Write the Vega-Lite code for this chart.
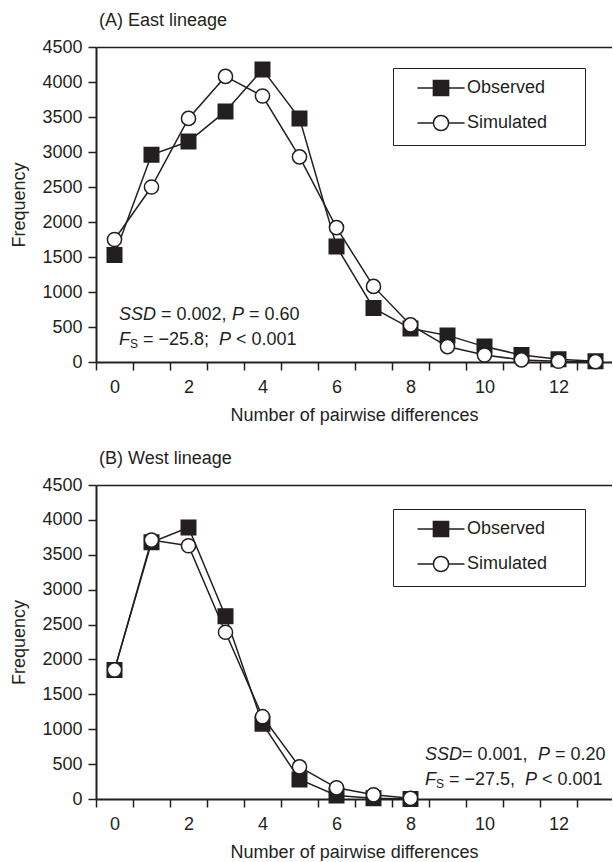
{
  "$schema": "https://vega.github.io/schema/vega-lite/v6.json",
  "padding": {"left": 10, "top": 12, "right": 0, "bottom": 0},
  "background": "white",
  "spacing": 26,
  "config": {
    "font": "Liberation Sans",
    "view": {"stroke": null},
    "axis": {"labelFont": "Liberation Sans", "labelFontSize": 18, "labelColor": "#231f20", "titleFont": "Liberation Sans", "titleFontSize": 18, "titleFontWeight": "normal", "titleColor": "#231f20", "domainColor": "#231f20", "domainWidth": 2, "tickColor": "#231f20", "tickWidth": 1.5, "tickSize": 8, "grid": false},
    "title": {"font": "Liberation Sans", "fontSize": 18, "fontWeight": "normal", "color": "#231f20", "anchor": "start", "frame": "group", "offset": 8},
    "text": {"font": "Liberation Sans", "fontSize": 18, "color": "#231f20"}
  },
  "datasets": {
    "pts": [
      {"panel": "A", "series": "Observed", "x": 0, "f": 1530},
      {"panel": "A", "series": "Observed", "x": 1, "f": 2960},
      {"panel": "A", "series": "Observed", "x": 2, "f": 3150},
      {"panel": "A", "series": "Observed", "x": 3, "f": 3580},
      {"panel": "A", "series": "Observed", "x": 4, "f": 4180},
      {"panel": "A", "series": "Observed", "x": 5, "f": 3480},
      {"panel": "A", "series": "Observed", "x": 6, "f": 1650},
      {"panel": "A", "series": "Observed", "x": 7, "f": 770},
      {"panel": "A", "series": "Observed", "x": 8, "f": 480},
      {"panel": "A", "series": "Observed", "x": 9, "f": 380},
      {"panel": "A", "series": "Observed", "x": 10, "f": 220},
      {"panel": "A", "series": "Observed", "x": 11, "f": 100},
      {"panel": "A", "series": "Observed", "x": 12, "f": 40},
      {"panel": "A", "series": "Observed", "x": 13, "f": 10},
      {"panel": "A", "series": "Simulated", "x": 0, "f": 1750},
      {"panel": "A", "series": "Simulated", "x": 1, "f": 2500},
      {"panel": "A", "series": "Simulated", "x": 2, "f": 3480},
      {"panel": "A", "series": "Simulated", "x": 3, "f": 4080},
      {"panel": "A", "series": "Simulated", "x": 4, "f": 3800},
      {"panel": "A", "series": "Simulated", "x": 5, "f": 2930},
      {"panel": "A", "series": "Simulated", "x": 6, "f": 1920},
      {"panel": "A", "series": "Simulated", "x": 7, "f": 1080},
      {"panel": "A", "series": "Simulated", "x": 8, "f": 530},
      {"panel": "A", "series": "Simulated", "x": 9, "f": 220},
      {"panel": "A", "series": "Simulated", "x": 10, "f": 100},
      {"panel": "A", "series": "Simulated", "x": 11, "f": 30},
      {"panel": "A", "series": "Simulated", "x": 12, "f": 10},
      {"panel": "A", "series": "Simulated", "x": 13, "f": 5},
      {"panel": "B", "series": "Observed", "x": 0, "f": 1850},
      {"panel": "B", "series": "Observed", "x": 1, "f": 3680},
      {"panel": "B", "series": "Observed", "x": 2, "f": 3890},
      {"panel": "B", "series": "Observed", "x": 3, "f": 2620},
      {"panel": "B", "series": "Observed", "x": 4, "f": 1080},
      {"panel": "B", "series": "Observed", "x": 5, "f": 280},
      {"panel": "B", "series": "Observed", "x": 6, "f": 50},
      {"panel": "B", "series": "Observed", "x": 7, "f": 10},
      {"panel": "B", "series": "Observed", "x": 8, "f": 0},
      {"panel": "B", "series": "Simulated", "x": 0, "f": 1850},
      {"panel": "B", "series": "Simulated", "x": 1, "f": 3710},
      {"panel": "B", "series": "Simulated", "x": 2, "f": 3630},
      {"panel": "B", "series": "Simulated", "x": 3, "f": 2390},
      {"panel": "B", "series": "Simulated", "x": 4, "f": 1180},
      {"panel": "B", "series": "Simulated", "x": 5, "f": 460},
      {"panel": "B", "series": "Simulated", "x": 6, "f": 160},
      {"panel": "B", "series": "Simulated", "x": 7, "f": 60},
      {"panel": "B", "series": "Simulated", "x": 8, "f": 10}
    ]
  },
  "resolve": {"scale": {"shape": "independent", "fill": "independent", "stroke": "independent"}, "legend": {"shape": "independent", "fill": "independent", "stroke": "independent"}},
  "vconcat": [
    {
      "title": {"text": "(A) East lineage", "dx": 3},
      "width": 516,
      "height": 315,
      "resolve": {"axis": {"x": "independent"}},
      "layer": [
        {
          "data": {"name": "pts"},
          "transform": [{"filter": "datum.panel === 'A'"}],
          "encoding": {
            "x": {"field": "x", "type": "quantitative", "title": "Number of pairwise differences",
              "scale": {"domain": [-0.5, 13.446], "nice": false, "zero": false},
              "axis": {"orient": "bottom", "values": [0, 1, 2, 3, 4, 5, 6, 7, 8, 9, 10, 11, 12, 13], "tickOffset": -18.5, "labelOffset": 18.5, "labelOverlap": "parity", "labelSeparation": 30, "labelPadding": 8, "titlePadding": 10, "labelFlush": false, "labelBound": false, "format": "d"}},
            "y": {"field": "f", "type": "quantitative", "title": "Frequency",
              "scale": {"domain": [0, 4500], "nice": false},
              "axis": {"values": [0, 500, 1000, 1500, 2000, 2500, 3000, 3500, 4000, 4500], "format": "d", "labelPadding": 6, "titlePadding": 13}}
          },
          "layer": [
            {"mark": {"type": "line", "color": "#231f20", "strokeWidth": 1.5}, "encoding": {"detail": {"field": "series"}}},
            {"transform": [{"filter": "datum.series === 'Observed'"}],
             "mark": {"type": "point", "shape": "square", "filled": true, "fill": "#231f20", "stroke": "#231f20", "strokeWidth": 1.5, "size": 210, "opacity": 1}},
            {"transform": [{"filter": "datum.series === 'Simulated'"}],
             "mark": {"type": "point", "shape": "circle", "filled": true, "fill": "#ffffff", "stroke": "#231f20", "strokeWidth": 1.5, "size": 200, "opacity": 1}}
          ]
        },
        {
          "data": {"name": "pts"},
          "transform": [{"filter": "false"}],
          "mark": {"type": "point", "filled": true, "strokeWidth": 1.5, "opacity": 1},
          "encoding": {
            "x": {"field": "x", "type": "quantitative", "title": null,
              "scale": {"domain": [-0.5, 13.446], "nice": false, "zero": false},
              "axis": {"orient": "top", "labels": false, "ticks": false, "title": null, "domain": true, "domainWidth": 1.5, "grid": false}},
            "y": {"field": "f", "type": "quantitative", "title": "Frequency",
              "scale": {"domain": [0, 4500], "nice": false},
              "axis": {"values": [0, 500, 1000, 1500, 2000, 2500, 3000, 3500, 4000, 4500], "format": "d", "labelPadding": 6, "titlePadding": 13}},
            "shape": {"field": "series", "type": "nominal", "scale": {"domain": ["Observed", "Simulated"], "range": ["M-2.94,0H2.94M-0.95,-0.95H0.95V0.95H-0.95Z", "M-2.94,0H-0.95M0.95,0H2.94M-0.95,0A0.95,0.95,0,1,1,0.95,0A0.95,0.95,0,1,1,-0.95,0Z"]},
              "legend": {"title": null, "orient": "none", "legendX": 297, "legendY": 21, "strokeColor": "#231f20", "padding": 11, "rowPadding": 13, "symbolSize": 256, "symbolStrokeWidth": 1.5, "symbolOffset": 28, "labelOffset": 17, "labelFont": "Liberation Sans", "labelFontSize": 18, "labelColor": "#231f20", "labelExpr": "datum.label + '\u2800\u2800'"}},
            "fill": {"field": "series", "type": "nominal", "scale": {"domain": ["Observed", "Simulated"], "range": ["#231f20", "#ffffff"]},
              "legend": {"title": null, "orient": "none", "legendX": 297, "legendY": 21, "strokeColor": "#231f20", "padding": 11, "rowPadding": 13, "symbolSize": 256, "symbolStrokeWidth": 1.5, "symbolOffset": 28, "labelOffset": 17, "labelFont": "Liberation Sans", "labelFontSize": 18, "labelColor": "#231f20", "labelExpr": "datum.label + '\u2800\u2800'"}},
            "stroke": {"field": "series", "type": "nominal", "scale": {"domain": ["Observed", "Simulated"], "range": ["#231f20", "#231f20"]},
              "legend": {"title": null, "orient": "none", "legendX": 297, "legendY": 21, "strokeColor": "#231f20", "padding": 11, "rowPadding": 13, "symbolSize": 256, "symbolStrokeWidth": 1.5, "symbolOffset": 28, "labelOffset": 17, "labelFont": "Liberation Sans", "labelFontSize": 18, "labelColor": "#231f20", "labelExpr": "datum.label + '\u2800\u2800'"}}
          }
        },
        {
          "data": {"values": [{"k": 1}]},
          "encoding": {
            "x": {"datum": 0, "type": "quantitative", "scale": {"domain": [-0.5, 13.446], "nice": false, "zero": false}, "axis": null},
            "y": {"datum": 0, "type": "quantitative", "title": "Frequency",
              "scale": {"domain": [0, 4500], "nice": false},
              "axis": {"values": [0, 500, 1000, 1500, 2000, 2500, 3000, 3500, 4000, 4500], "format": "d", "labelPadding": 6, "titlePadding": 13}}
          },
          "layer": [
            {"mark": {"type": "text", "text": "SSD", "fontStyle": "italic", "align": "left", "baseline": "middle", "color": "#231f20"}, "encoding": {"x": {"datum": 0.122}, "y": {"datum": 671}}},
            {"mark": {"type": "text", "text": "= 0.002,", "align": "left", "baseline": "middle", "color": "#231f20"}, "encoding": {"x": {"datum": 1.257}, "y": {"datum": 671}}},
            {"mark": {"type": "text", "text": "P", "fontStyle": "italic", "align": "left", "baseline": "middle", "color": "#231f20"}, "encoding": {"x": {"datum": 3.176}, "y": {"datum": 671}}},
            {"mark": {"type": "text", "text": "= 0.60", "align": "left", "baseline": "middle", "color": "#231f20"}, "encoding": {"x": {"datum": 3.635}, "y": {"datum": 671}}},
            {"mark": {"type": "text", "text": "F", "fontStyle": "italic", "align": "left", "baseline": "middle", "color": "#231f20"}, "encoding": {"x": {"datum": 0.122}, "y": {"datum": 314}}},
            {"mark": {"type": "text", "text": "S", "fontSize": 12, "align": "left", "baseline": "middle", "color": "#231f20"}, "encoding": {"x": {"datum": 0.419}, "y": {"datum": 257}}},
            {"mark": {"type": "text", "text": "= −25.8;", "align": "left", "baseline": "middle", "color": "#231f20"}, "encoding": {"x": {"datum": 0.77}, "y": {"datum": 314}}},
            {"mark": {"type": "text", "text": "P", "fontStyle": "italic", "align": "left", "baseline": "middle", "color": "#231f20"}, "encoding": {"x": {"datum": 2.824}, "y": {"datum": 314}}},
            {"mark": {"type": "text", "text": "< 0.001", "align": "left", "baseline": "middle", "color": "#231f20"}, "encoding": {"x": {"datum": 3.284}, "y": {"datum": 314}}}
          ]
        }
      ]
    },
    {
      "title": {"text": "(B) West lineage", "dx": 3},
      "width": 516,
      "height": 314,
      "resolve": {"axis": {"x": "independent"}},
      "layer": [
        {
          "data": {"name": "pts"},
          "transform": [{"filter": "datum.panel === 'B'"}],
          "encoding": {
            "x": {"field": "x", "type": "quantitative", "title": "Number of pairwise differences",
              "scale": {"domain": [-0.5, 13.446], "nice": false, "zero": false},
              "axis": {"orient": "bottom", "values": [0, 1, 2, 3, 4, 5, 6, 7, 8, 9, 10, 11, 12, 13], "tickOffset": -18.5, "labelOffset": 18.5, "labelOverlap": "parity", "labelSeparation": 30, "labelPadding": 8, "titlePadding": 10, "labelFlush": false, "labelBound": false, "format": "d"}},
            "y": {"field": "f", "type": "quantitative", "title": "Frequency",
              "scale": {"domain": [0, 4500], "nice": false},
              "axis": {"values": [0, 500, 1000, 1500, 2000, 2500, 3000, 3500, 4000, 4500], "format": "d", "labelPadding": 6, "titlePadding": 13}}
          },
          "layer": [
            {"mark": {"type": "line", "color": "#231f20", "strokeWidth": 1.5}, "encoding": {"detail": {"field": "series"}}},
            {"transform": [{"filter": "datum.series === 'Observed'"}],
             "mark": {"type": "point", "shape": "square", "filled": true, "fill": "#231f20", "stroke": "#231f20", "strokeWidth": 1.5, "size": 210, "opacity": 1}},
            {"transform": [{"filter": "datum.series === 'Simulated'"}],
             "mark": {"type": "point", "shape": "circle", "filled": true, "fill": "#ffffff", "stroke": "#231f20", "strokeWidth": 1.5, "size": 200, "opacity": 1}}
          ]
        },
        {
          "data": {"name": "pts"},
          "transform": [{"filter": "false"}],
          "mark": {"type": "point", "filled": true, "strokeWidth": 1.5, "opacity": 1},
          "encoding": {
            "x": {"field": "x", "type": "quantitative", "title": null,
              "scale": {"domain": [-0.5, 13.446], "nice": false, "zero": false},
              "axis": {"orient": "top", "labels": false, "ticks": false, "title": null, "domain": true, "domainWidth": 1.5, "grid": false}},
            "y": {"field": "f", "type": "quantitative", "title": "Frequency",
              "scale": {"domain": [0, 4500], "nice": false},
              "axis": {"values": [0, 500, 1000, 1500, 2000, 2500, 3000, 3500, 4000, 4500], "format": "d", "labelPadding": 6, "titlePadding": 13}},
            "shape": {"field": "series", "type": "nominal", "scale": {"domain": ["Observed", "Simulated"], "range": ["M-2.94,0H2.94M-0.95,-0.95H0.95V0.95H-0.95Z", "M-2.94,0H-0.95M0.95,0H2.94M-0.95,0A0.95,0.95,0,1,1,0.95,0A0.95,0.95,0,1,1,-0.95,0Z"]},
              "legend": {"title": null, "orient": "none", "legendX": 297, "legendY": 24, "strokeColor": "#231f20", "padding": 11, "rowPadding": 13, "symbolSize": 256, "symbolStrokeWidth": 1.5, "symbolOffset": 28, "labelOffset": 17, "labelFont": "Liberation Sans", "labelFontSize": 18, "labelColor": "#231f20", "labelExpr": "datum.label + '\u2800\u2800'"}},
            "fill": {"field": "series", "type": "nominal", "scale": {"domain": ["Observed", "Simulated"], "range": ["#231f20", "#ffffff"]},
              "legend": {"title": null, "orient": "none", "legendX": 297, "legendY": 24, "strokeColor": "#231f20", "padding": 11, "rowPadding": 13, "symbolSize": 256, "symbolStrokeWidth": 1.5, "symbolOffset": 28, "labelOffset": 17, "labelFont": "Liberation Sans", "labelFontSize": 18, "labelColor": "#231f20", "labelExpr": "datum.label + '\u2800\u2800'"}},
            "stroke": {"field": "series", "type": "nominal", "scale": {"domain": ["Observed", "Simulated"], "range": ["#231f20", "#231f20"]},
              "legend": {"title": null, "orient": "none", "legendX": 297, "legendY": 24, "strokeColor": "#231f20", "padding": 11, "rowPadding": 13, "symbolSize": 256, "symbolStrokeWidth": 1.5, "symbolOffset": 28, "labelOffset": 17, "labelFont": "Liberation Sans", "labelFontSize": 18, "labelColor": "#231f20", "labelExpr": "datum.label + '\u2800\u2800'"}}
          }
        },
        {
          "data": {"values": [{"k": 1}]},
          "encoding": {
            "x": {"datum": 0, "type": "quantitative", "scale": {"domain": [-0.5, 13.446], "nice": false, "zero": false}, "axis": null},
            "y": {"datum": 0, "type": "quantitative", "title": "Frequency",
              "scale": {"domain": [0, 4500], "nice": false},
              "axis": {"values": [0, 500, 1000, 1500, 2000, 2500, 3000, 3500, 4000, 4500], "format": "d", "labelPadding": 6, "titlePadding": 13}}
          },
          "layer": [
            {"mark": {"type": "text", "text": "SSD", "fontStyle": "italic", "align": "left", "baseline": "middle", "color": "#231f20"}, "encoding": {"x": {"datum": 8.392}, "y": {"datum": 630}}},
            {"mark": {"type": "text", "text": "= 0.001,", "align": "left", "baseline": "middle", "color": "#231f20"}, "encoding": {"x": {"datum": 9.392}, "y": {"datum": 630}}},
            {"mark": {"type": "text", "text": "P", "fontStyle": "italic", "align": "left", "baseline": "middle", "color": "#231f20"}, "encoding": {"x": {"datum": 11.446}, "y": {"datum": 630}}},
            {"mark": {"type": "text", "text": "= 0.20", "align": "left", "baseline": "middle", "color": "#231f20"}, "encoding": {"x": {"datum": 11.905}, "y": {"datum": 630}}},
            {"mark": {"type": "text", "text": "F", "fontStyle": "italic", "align": "left", "baseline": "middle", "color": "#231f20"}, "encoding": {"x": {"datum": 8.392}, "y": {"datum": 272}}},
            {"mark": {"type": "text", "text": "S", "fontSize": 12, "align": "left", "baseline": "middle", "color": "#231f20"}, "encoding": {"x": {"datum": 8.689}, "y": {"datum": 215}}},
            {"mark": {"type": "text", "text": "= −27.5,", "align": "left", "baseline": "middle", "color": "#231f20"}, "encoding": {"x": {"datum": 9.041}, "y": {"datum": 272}}},
            {"mark": {"type": "text", "text": "P", "fontStyle": "italic", "align": "left", "baseline": "middle", "color": "#231f20"}, "encoding": {"x": {"datum": 11.095}, "y": {"datum": 272}}},
            {"mark": {"type": "text", "text": "< 0.001", "align": "left", "baseline": "middle", "color": "#231f20"}, "encoding": {"x": {"datum": 11.554}, "y": {"datum": 272}}}
          ]
        }
      ]
    }
  ]
}
